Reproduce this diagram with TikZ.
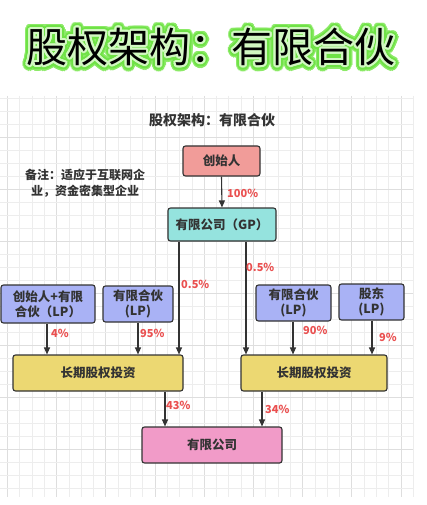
\documentclass[tikz,border=0pt]{standalone}
\usepackage{fontspec}
\setmainfont{Noto Sans CJK SC}
\usetikzlibrary{arrows.meta}
\definecolor{gridminor}{HTML}{EDEDED}
\definecolor{gridmajor}{HTML}{DEDEDE}
\definecolor{ink}{HTML}{333333}
\definecolor{pct}{HTML}{EA5050}
\definecolor{fred}{HTML}{F19C99}
\definecolor{fcyan}{HTML}{95E3DE}
\definecolor{fblue}{HTML}{A9B2F5}
\definecolor{fyellow}{HTML}{ECD872}
\definecolor{fpink}{HTML}{F19BC8}
\definecolor{glowA}{HTML}{8BEA66}
\definecolor{glowB}{HTML}{6FE246}
\definecolor{glowC}{HTML}{D2F8C2}
\tikzset{
  box/.style={draw=ink, line width=1.1pt, rounded corners=2.5pt, text=ink,
    font=\bfseries\fontsize{12.5}{15}\selectfont, align=center, inner sep=0pt},
  arr/.style={draw=ink, line width=1.1pt, -{Triangle[length=7pt,width=6pt]}},
  pctlab/.style={text=pct, font=\bfseries\fontsize{11}{13}\selectfont, anchor=west, inner sep=0pt},
  ttl/.style={font=\fontsize{41}{45}\selectfont, inner sep=0pt}
}
\newcommand\mytitle{股权架构：有限合伙}
\begin{document}
\begin{tikzpicture}[x=1pt,y=-1pt]
\useasboundingbox (0,0) rectangle (427,505);
\fill[white] (0,0) rectangle (427,505);
% grid
\foreach \k in {0,...,33} {
  \pgfmathtruncatemacro\m{mod(\k,4)}
  \ifnum\m=0 \draw[gridmajor, line width=0.7pt] ({7.3+12.3*\k},96) -- ({7.3+12.3*\k},497);
  \else \draw[gridminor, line width=0.6pt] ({7.3+12.3*\k},96) -- ({7.3+12.3*\k},497); \fi
}
\foreach \j in {0,...,30} {
  \pgfmathtruncatemacro\m{mod(\j,4)}
  \ifnum\m=3 \draw[gridmajor, line width=0.7pt] (0,{98.3+13*\j}) -- (413,{98.3+13*\j});
  \else \draw[gridminor, line width=0.6pt] (0,{98.3+13*\j}) -- (413,{98.3+13*\j}); \fi
}
% title with glow
\foreach \a in {0,12,...,348} {
  \node[ttl, text=glowA] at ([shift={(\a:5.5)}]211,47) {\mytitle};
}
\foreach \a in {0,15,...,345} {
  \node[ttl, text=glowB] at ([shift={(\a:4)}]211,47) {\mytitle};
}
\foreach \a in {0,20,...,340} {
  \node[ttl, text=glowC] at ([shift={(\a:2)}]211,47) {\mytitle};
}
\node[ttl, text=black] (title) at (211,47) {\mytitle};
% subtitle and note
\node[text=ink, font=\bfseries\fontsize{14}{16}\selectfont, inner sep=0pt] (sub) at (212,120) {股权架构：有限合伙};
\node[text=ink, font=\bfseries\fontsize{12}{16}\selectfont, align=center, inner sep=0pt] (note) at (85,183) {备注：适应于互联网企\\业，资金密集型企业};
% boxes
\node[box, fill=fred, minimum width=77pt, minimum height=30pt] (founder) at (221.5,161) {创始人};
\node[box, fill=fcyan, minimum width=108pt, minimum height=33pt] (gp) at (222,224.5) {有限公司（GP）};
\node[box, fill=fblue, minimum width=94pt, minimum height=38pt] (lp1) at (48,304) {创始人+有限\\合伙（LP）};
\node[box, fill=fblue, minimum width=70pt, minimum height=36pt] (lp2) at (138,304) {有限合伙\\(LP)};
\node[box, fill=fblue, minimum width=75pt, minimum height=36pt] (lp3) at (293.5,303) {有限合伙\\(LP)};
\node[box, fill=fblue, minimum width=65pt, minimum height=36pt] (lp4) at (371.5,302) {股东\\(LP)};
\node[box, fill=fyellow, minimum width=170pt, minimum height=36pt] (ya) at (98,373) {长期股权投资};
\node[box, fill=fyellow, minimum width=146pt, minimum height=36pt] (yb) at (314,373) {长期股权投资};
\node[box, fill=fpink, minimum width=140pt, minimum height=36pt] (co) at (212,445) {有限公司};
% x positions of connectors
\coordinate (xg1) at (179,0);
\coordinate (xg2) at (246,0);
\coordinate (x1) at (47,0);
\coordinate (x2) at (138,0);
\coordinate (x3) at (293,0);
\coordinate (x4) at (372,0);
\coordinate (xa) at (165,0);
\coordinate (xb) at (262,0);
% connectors
\draw[arr] (founder.south) -- (gp.north);
\draw[arr] (gp.south -| xg1) -- (ya.north -| xg1);
\draw[arr] (gp.south -| xg2) -- (yb.north -| xg2);
\draw[arr] (lp1.south -| x1) -- (ya.north -| x1);
\draw[arr] (lp2.south -| x2) -- (ya.north -| x2);
\draw[arr] (lp3.south -| x3) -- (yb.north -| x3);
\draw[arr] (lp4.south -| x4) -- (yb.north -| x4);
\draw[arr] (ya.south -| xa) -- (co.north -| xa);
\draw[arr] (yb.south -| xb) -- (co.north -| xb);
% percentage labels
\node[pctlab] (p100) at (227,193) {100\%};
\node[pctlab] (pg1) at (181,284) {0.5\%};
\node[pctlab] (pg2) at (246,267) {0.5\%};
\node[pctlab] (p4) at (51,333) {4\%};
\node[pctlab] (p95) at (140,333) {95\%};
\node[pctlab] (p90) at (303,330) {90\%};
\node[pctlab] (p9) at (379,337) {9\%};
\node[pctlab] (p43) at (166,405) {43\%};
\node[pctlab] (p34) at (265,409) {34\%};
\end{tikzpicture}
\end{document}
